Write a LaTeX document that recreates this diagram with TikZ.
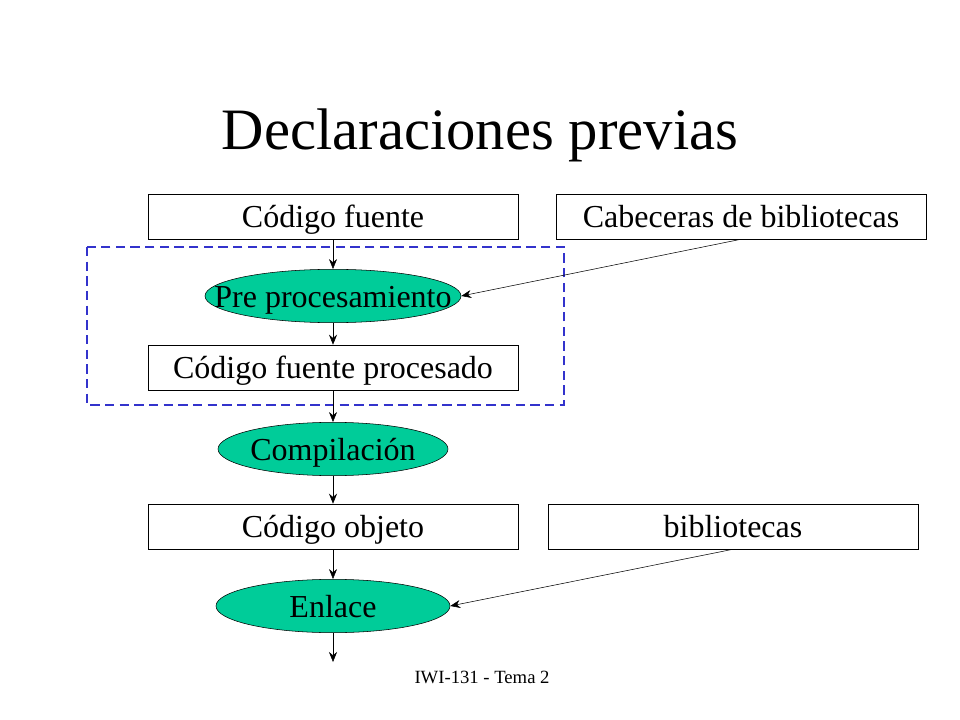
\documentclass[tikz,border=0pt]{standalone}
\usepackage{fontspec}
\setmainfont{Liberation Serif}
\usetikzlibrary{shapes.geometric,arrows.meta}
\definecolor{stepgreen}{RGB}{0,204,153}
\definecolor{groupblue}{RGB}{51,51,204}
\newcommand{\phasetext}[1]{\makebox[0pt]{#1}}
\begin{document}
\begin{tikzpicture}[x=0.75pt,y=-0.75pt,
    box/.style={draw,rectangle,font=\fontsize{24}{28}\selectfont,
      minimum width=277.5pt,minimum height=33.75pt,inner sep=0pt,
      text height=22pt,text depth=4.8pt},
    phase/.style={draw,ellipse,fill=stepgreen,font=\fontsize{24}{28}\selectfont,
      inner sep=0pt,minimum height=40pt,text height=22pt,text depth=4.8pt},
    link/.style={-{Stealth[length=7.5pt,width=6pt]},thin},
    ]
  \useasboundingbox (0,0) rectangle (960,720);
  \node[anchor=base,font=\fontsize{44}{50}\selectfont] (title) at (480,150)
    {Declaraciones previas};
  % group of the preprocessing step
  \draw[groupblue,line width=1.4pt,dash pattern=on 7pt off 4pt] (87,247) rectangle (564,405);
  \node[box] (src) at (333,216.5) {Código fuente};
  \node[box] (hdr) at (741,216.5) {Cabeceras de bibliotecas};
  \node[phase,minimum width=192pt] (pre) at (333,296) {\phasetext{Pre procesamiento}};
  \node[box] (psrc) at (333,367.5) {Código fuente procesado};
  \node[phase,minimum width=172.5pt] (comp) at (333,449) {\phasetext{Compilación}};
  \node[box] (obj) at (333,526.5) {Código objeto};
  \node[box] (lib) at (733,526.5) {bibliotecas};
  \node[phase,minimum width=175.5pt] (link) at (333,606) {\phasetext{Enlace}};
  \coordinate (out) at (333,662);
  \draw[link] (src) -- (pre);
  \draw[link] (pre) -- (psrc);
  \draw[link] (psrc) -- (comp);
  \draw[link] (comp) -- (obj);
  \draw[link] (obj) -- (link);
  \draw[link] (link) -- (out);
  \draw[link] (hdr.south) -- (pre.east);
  \draw[link] (lib.south) -- (link.east);
  \node[anchor=base,font=\fontsize{14}{16}\selectfont] (foot) at (482,683)
    {IWI-131 - Tema 2};
\end{tikzpicture}
\end{document}
